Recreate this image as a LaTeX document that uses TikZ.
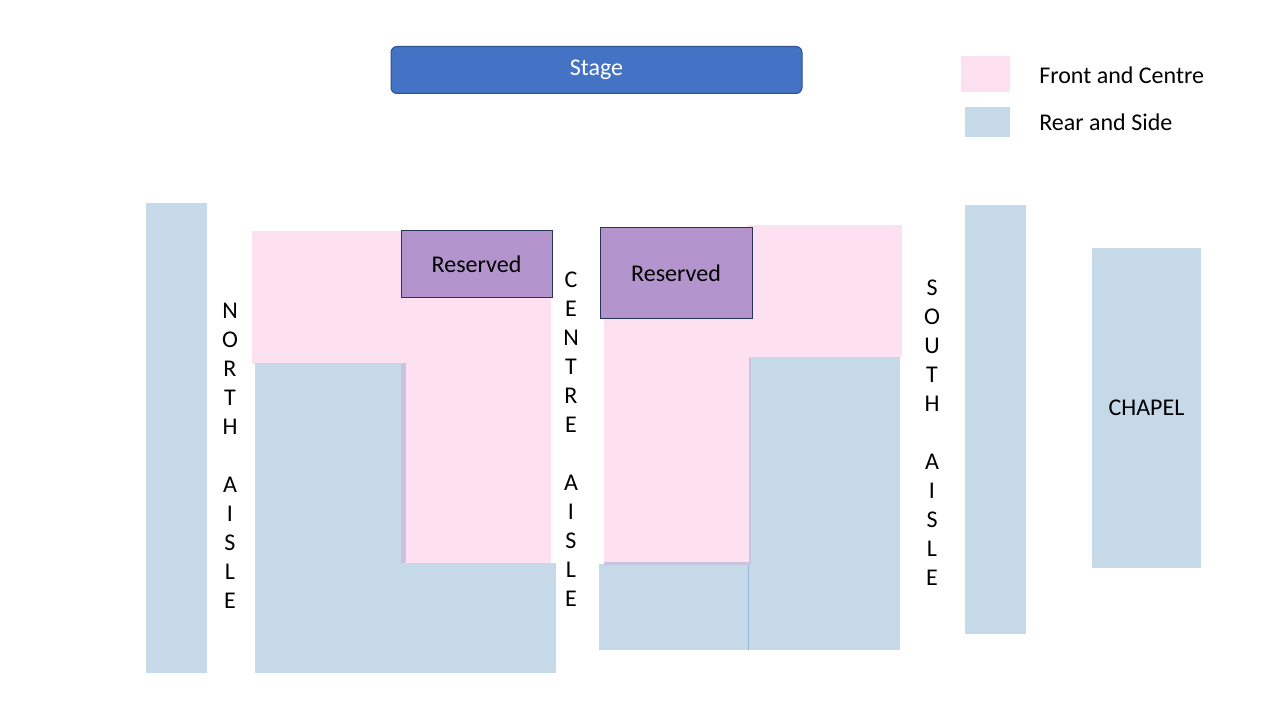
\documentclass[tikz,border=0pt]{standalone}
\usepackage{fontspec}
\setmainfont{Carlito}
\usetikzlibrary{positioning}
\definecolor{stageBlue}{RGB}{68, 114, 196}
\definecolor{stageEdge}{RGB}{47, 82, 143}
\definecolor{frontPink}{RGB}{254, 225, 240}
\definecolor{rearBlue}{RGB}{197, 217, 233}
\definecolor{reservedPurple}{RGB}{180, 148, 204}
\definecolor{reservedEdge}{RGB}{38, 52, 90}
\definecolor{seamPurple}{RGB}{200, 196, 224}
\definecolor{seamBlue}{RGB}{150, 185, 220}

\tikzset{
  label18/.style={font=\fontsize{18pt}{21.75pt}\selectfont, inner sep=0pt},
  aisletext/.style={label18, align=center},
  reservedbox/.style={draw=reservedEdge, fill=reservedPurple, line width=0.75pt, label18},
}

\begin{document}
\begin{tikzpicture}[x=0.75pt, y=-0.75pt]
\useasboundingbox (0,0) rectangle (1280,720);

% stage and legend
\node[fill=stageBlue, draw=stageEdge, rounded corners=4.5pt, line width=0.75pt, text=white, label18, minimum width=308.25pt, minimum height=35.25pt] (stage) at (596.5,70) {Stage};
\fill[frontPink] (961,56) rectangle (1010,92);
\fill[rearBlue] (965,107) rectangle (1010,137);
\node[label18, anchor=west] (keyFront) at (1039,75) {Front and Centre};
\node[label18, anchor=west] (keyRear) at (1039,122) {Rear and Side};

% side aisles and chapel
\fill[rearBlue] (146,203) rectangle (207,673);
\fill[rearBlue] (965,205) rectangle (1026,634);
\node[fill=rearBlue, label18, minimum width=81.75pt, minimum height=240pt] (chapel) at (1146.5,408) {CHAPEL};

% north block
\fill[frontPink] (252,231) rectangle (402,364);
\fill[rearBlue] (255,363) rectangle (406,673);
\fill[rearBlue] (401,563) rectangle (556,673);
\fill[frontPink] (401,297) rectangle (551,563);
\fill[seamPurple] (401,363) rectangle (406,563);
\node[reservedbox, minimum width=113.25pt, minimum height=49.5pt] (resNorth) at (476.5,264) {Reserved};

% south block
\fill[rearBlue] (599,564) rectangle (749,650);
\fill[rearBlue] (748,357) rectangle (900,650);
\fill[frontPink] (748,225) rectangle (902,357);
\fill[frontPink] (604,300) rectangle (749,563);
\draw[seamPurple, line width=2pt] (604,563.5) -- (750,563.5) -- (750,358);
\draw[seamBlue, line width=0.75pt] (748.5,565) -- (748.5,650);
\node[reservedbox, minimum width=114pt, minimum height=67.5pt] (resSouth) at (676,273) {Reserved};

% aisle lettering
\node[aisletext] (northAisle) at (230,456) {N\\O\\R\\T\\H\\~\\A\\I\\S\\L\\E};
\node[aisletext] (centreAisle) at (571,439.5) {C\\E\\N\\T\\R\\E\\~\\A\\I\\S\\L\\E};
\node[aisletext] (southAisle) at (932,432.5) {S\\O\\U\\T\\H\\~\\A\\I\\S\\L\\E};
\end{tikzpicture}
\end{document}
